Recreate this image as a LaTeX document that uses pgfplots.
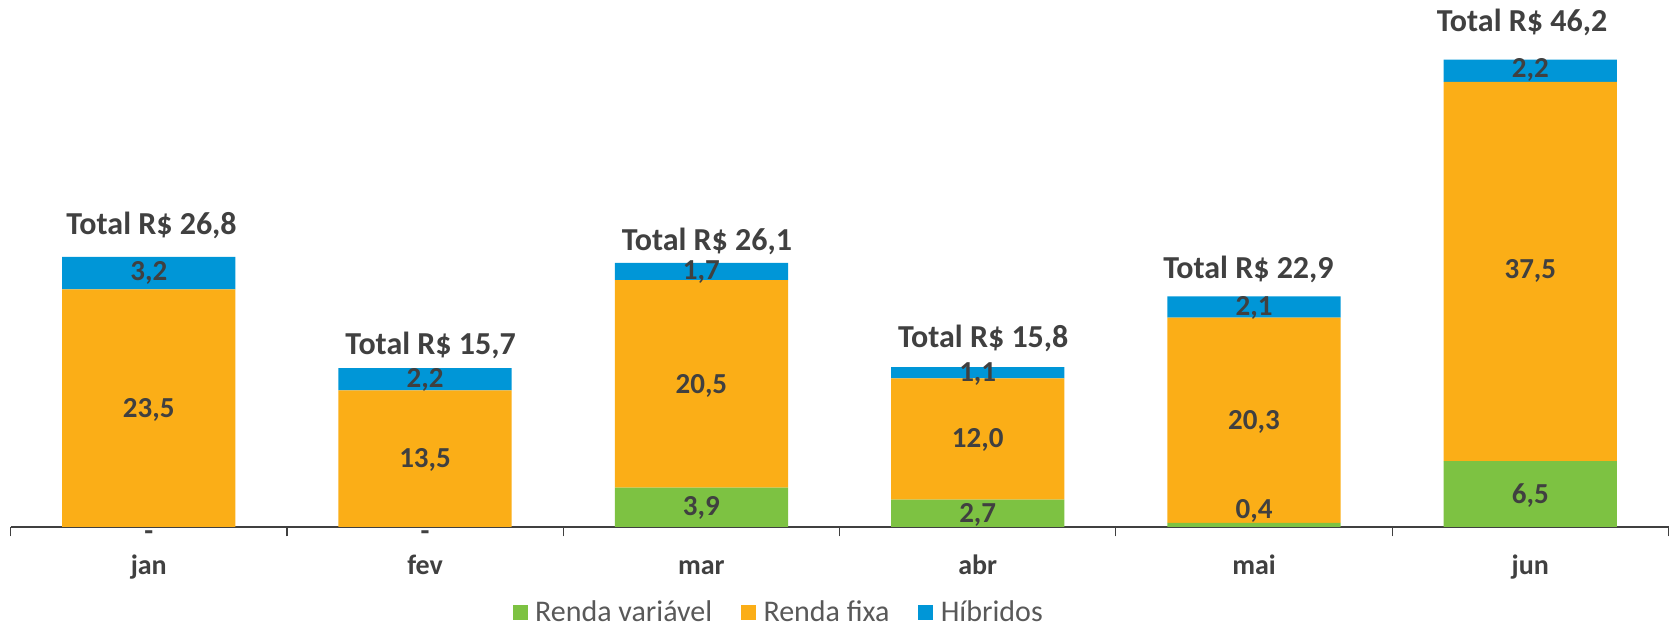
\documentclass[border=0pt]{standalone}
\usepackage{fontspec}
\setmainfont{Carlito}
\usepackage{pgfplots}
\usepackage{pgfplotstable}
\pgfplotsset{compat=1.18}
\definecolor{rvar}{RGB}{125,194,66}
\definecolor{rfixa}{RGB}{251,174,23}
\definecolor{hibr}{RGB}{0,150,215}
\definecolor{txt}{RGB}{64,64,64}
\definecolor{leg}{RGB}{89,89,89}
\newcommand{\lblfont}{\fontsize{11.6}{12}\selectfont\bfseries}
\newcommand{\totfont}{\fontsize{12.8}{13}\selectfont\bfseries}
\tikzset{lbl/.style={font=\lblfont, text=txt, inner sep=0pt},
  tot/.style={font=\totfont, text=txt, inner sep=0pt}}
\pgfplotstableread{
x rv rf hb
0 0   23.5 3.2
1 0   13.5 2.2
2 3.9 20.5 1.7
3 2.7 12.0 1.1
4 0.4 20.3 2.1
5 6.5 37.5 2.2
}\dados
\begin{document}
\begin{tikzpicture}
\useasboundingbox (-4.24pt,-40.4pt) rectangle (663.4pt,210.8pt);
\begin{axis}[scale only axis, width=663.2pt, height=210.8pt,
  ybar stacked, bar width=0.627, ymin=0, ymax=52.1, xmin=-0.5, xmax=5.5,
  axis x line=bottom, hide y axis, axis line style={-, draw=txt, line width=0.5pt},
  xtick={0,...,5}, xticklabels={jan,fev,mar,abr,mai,jun}, major tick length=0pt,
  minor xtick={-0.5,0.5,...,5.5}, minor tick length=3.8pt, tick align=outside,
  minor tick style={draw=txt, line width=0.5pt},
  xticklabel style={anchor=base, yshift=-18.9pt, font=\fontsize{11.2}{12}\selectfont\bfseries, text=txt},
  clip=false,
  legend columns=3,
  legend style={at={(rel axis cs:0.4627,-0.163)}, anchor=center, draw=none, fill=none,
    inner sep=0pt, outer sep=0pt,
    font=\fontsize{12}{13}\selectfont, text=leg, nodes={inner sep=0pt},
    /tikz/every odd column/.append style={column sep=3pt},
    /tikz/every even column/.append style={column sep=11.5pt}},
  legend image code/.code={\fill[#1] (0pt,-3pt) rectangle (6pt,3pt);},
]
\addplot[fill=rvar, draw=none] table[x=x, y=rv] {\dados};
\addplot[fill=rfixa, draw=none] table[x=x, y=rf] {\dados};
\addplot[fill=hibr, draw=none] table[x=x, y=hb] {\dados};
\legend{Renda variável, Renda fixa, Híbridos}
% posicoes dos rotulos
\coordinate (a0) at (axis cs:0,-0.9);   \coordinate (b0) at (axis cs:0,11.6);  \coordinate (c0) at (axis cs:0,25.1);
\coordinate (a1) at (axis cs:1,-0.9);   \coordinate (b1) at (axis cs:1,6.6);   \coordinate (c1) at (axis cs:1,14.5);
\coordinate (a2) at (axis cs:2,1.85);   \coordinate (b2) at (axis cs:2,13.9);  \coordinate (c2) at (axis cs:2,25.2);
\coordinate (a3) at (axis cs:3,1.2);    \coordinate (b3) at (axis cs:3,8.6);   \coordinate (c3) at (axis cs:3,15.1);
\coordinate (a4) at (axis cs:4,1.6);    \coordinate (b4) at (axis cs:4,10.35); \coordinate (c4) at (axis cs:4,21.7);
\coordinate (a5) at (axis cs:5,3.1);    \coordinate (b5) at (axis cs:5,25.3);  \coordinate (c5) at (axis cs:5,45.2);
\coordinate (t0) at (axis cs:0.01,29.8);
\coordinate (t1) at (axis cs:1.02,17.9);
\coordinate (t2) at (axis cs:2.02,28.2);
\coordinate (t3) at (axis cs:3.02,18.6);
\coordinate (t4) at (axis cs:3.98,25.5);
\coordinate (t5) at (axis cs:4.97,49.9);
\end{axis}
\node[lbl] at (a0) {-};    \node[lbl] at (b0) {23,5}; \node[lbl] at (c0) {3,2};
\node[lbl] at (a1) {-};    \node[lbl] at (b1) {13,5}; \node[lbl] at (c1) {2,2};
\node[lbl] at (a2) {3,9};  \node[lbl] at (b2) {20,5}; \node[lbl] at (c2) {1,7};
\node[lbl] at (a3) {2,7};  \node[lbl] at (b3) {12,0}; \node[lbl] at (c3) {1,1};
\node[lbl] at (a4) {0,4};  \node[lbl] at (b4) {20,3}; \node[lbl] at (c4) {2,1};
\node[lbl] at (a5) {6,5};  \node[lbl] at (b5) {37,5}; \node[lbl] at (c5) {2,2};
\node[tot] at (t0) {Total R\$ 26,8};
\node[tot] at (t1) {Total R\$ 15,7};
\node[tot] at (t2) {Total R\$ 26,1};
\node[tot] at (t3) {Total R\$ 15,8};
\node[tot] at (t4) {Total R\$ 22,9};
\node[tot] at (t5) {Total R\$ 46,2};
\end{tikzpicture}
\end{document}
